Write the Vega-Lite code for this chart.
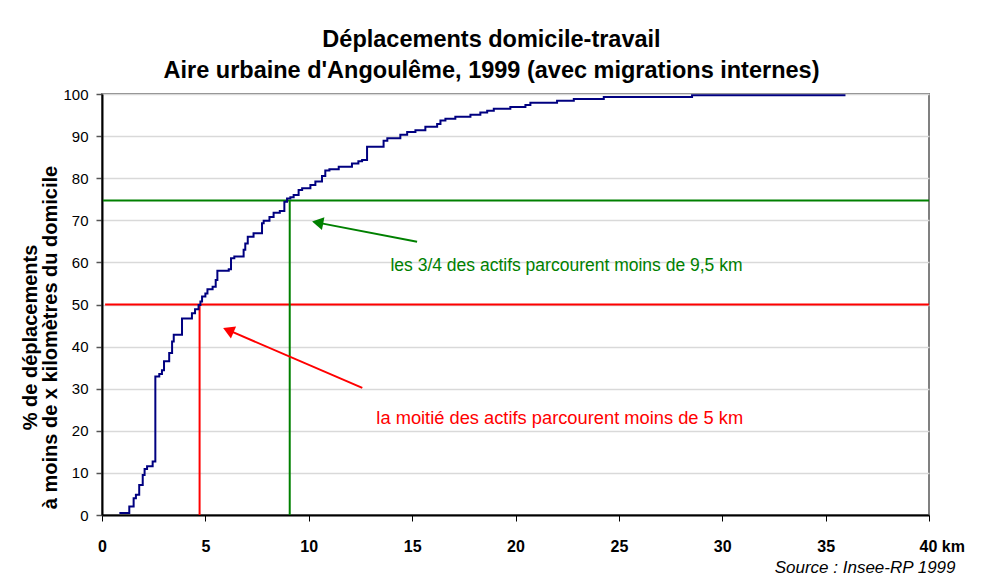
{
  "$schema": "https://vega.github.io/schema/vega-lite/v6.json",
  "autosize": "none",
  "width": 827,
  "height": 421,
  "padding": {"left": 102, "top": 94, "right": 53, "bottom": 62},
  "background": "white",
  "config": {
    "font": "Liberation Sans",
    "view": {"stroke": "#808080", "strokeWidth": 2}
  },
  "title": {
    "text": ["Déplacements domicile-travail", "Aire urbaine d'Angoulême, 1999 (avec migrations internes)"],
    "font": "Liberation Sans",
    "fontSize": 23.5,
    "fontWeight": "bold",
    "color": "black",
    "lineHeight": 31,
    "anchor": "middle",
    "dx": -24,
    "offset": 5
  },
  "datasets": {
    "curve": [
      {"km": 0.84, "pct": 0.5}, {"km": 1.32, "pct": 2.0}, {"km": 1.53, "pct": 4.0}, {"km": 1.64, "pct": 4.8},
      {"km": 1.80, "pct": 7.1}, {"km": 1.97, "pct": 9.5}, {"km": 2.06, "pct": 10.9}, {"km": 2.18, "pct": 11.6},
      {"km": 2.45, "pct": 12.7}, {"km": 2.58, "pct": 32.9}, {"km": 2.77, "pct": 33.5}, {"km": 2.90, "pct": 34.4},
      {"km": 3.00, "pct": 36.5}, {"km": 3.25, "pct": 38.5}, {"km": 3.39, "pct": 41.2}, {"km": 3.47, "pct": 42.8},
      {"km": 3.87, "pct": 46.7}, {"km": 4.35, "pct": 47.9}, {"km": 4.50, "pct": 48.9}, {"km": 4.67, "pct": 49.9},
      {"km": 4.76, "pct": 50.7}, {"km": 4.84, "pct": 51.9}, {"km": 5.00, "pct": 52.6}, {"km": 5.10, "pct": 53.6},
      {"km": 5.35, "pct": 54.2}, {"km": 5.50, "pct": 55.8}, {"km": 5.58, "pct": 58.0}, {"km": 6.13, "pct": 58.4},
      {"km": 6.24, "pct": 61.0}, {"km": 6.40, "pct": 61.4}, {"km": 6.85, "pct": 63.0}, {"km": 6.93, "pct": 64.5},
      {"km": 7.05, "pct": 66.1}, {"km": 7.33, "pct": 66.9}, {"km": 7.74, "pct": 69.3}, {"km": 7.82, "pct": 69.9},
      {"km": 8.10, "pct": 70.8}, {"km": 8.30, "pct": 71.8}, {"km": 8.60, "pct": 72.2}, {"km": 8.82, "pct": 74.4},
      {"km": 8.95, "pct": 75.2}, {"km": 9.11, "pct": 75.5}, {"km": 9.27, "pct": 76.0}, {"km": 9.51, "pct": 77.2},
      {"km": 9.68, "pct": 77.6}, {"km": 10.08, "pct": 78.4}, {"km": 10.32, "pct": 79.2}, {"km": 10.64, "pct": 80.5},
      {"km": 10.80, "pct": 81.8}, {"km": 11.00, "pct": 82.1}, {"km": 11.45, "pct": 82.7}, {"km": 12.09, "pct": 83.5},
      {"km": 12.40, "pct": 84.0}, {"km": 12.58, "pct": 84.3}, {"km": 12.82, "pct": 87.5}, {"km": 13.62, "pct": 88.9},
      {"km": 13.80, "pct": 89.5}, {"km": 14.43, "pct": 90.3}, {"km": 14.76, "pct": 91.0}, {"km": 15.16, "pct": 91.4},
      {"km": 15.64, "pct": 92.2}, {"km": 16.21, "pct": 92.9}, {"km": 16.37, "pct": 93.7}, {"km": 16.61, "pct": 94.1},
      {"km": 17.09, "pct": 94.6}, {"km": 17.82, "pct": 95.1}, {"km": 18.30, "pct": 95.6}, {"km": 18.63, "pct": 96.0},
      {"km": 18.95, "pct": 96.5}, {"km": 19.75, "pct": 96.9}, {"km": 20.48, "pct": 97.4}, {"km": 20.72, "pct": 97.9},
      {"km": 22.01, "pct": 98.4}, {"km": 22.82, "pct": 98.8}, {"km": 24.27, "pct": 99.3}, {"km": 28.54, "pct": 99.7},
      {"km": 35.96, "pct": 99.7}
    ],
    "redLines": [
      {"km": 0.15, "km2": 40, "pct": 50, "pct2": 50},
      {"km": 4.72, "km2": 4.72, "pct": 0, "pct2": 50}
    ],
    "greenLines": [
      {"km": 0.05, "km2": 40, "pct": 74.7, "pct2": 74.7},
      {"km": 9.08, "km2": 9.08, "pct": 0, "pct2": 74.7}
    ],
    "redArrow": [{"km": 12.59, "pct": 30.2, "km2": 6.11, "pct2": 43.9}],
    "greenArrow": [{"km": 15.24, "pct": 64.9, "km2": 10.43, "pct2": 69.45}],
    "redText": [{"km": 13.27, "pct": 22.8, "label": "la moitié des actifs parcourent moins de 5 km"}],
    "greenText": [{"km": 13.95, "pct": 59.1, "label": "les 3/4 des actifs parcourent moins de 9,5 km"}]
  },
  "layer": [
    {
      "data": {"name": "redLines"},
      "mark": {"type": "rule", "color": "#ff0000", "strokeWidth": 2},
      "encoding": {
        "x": {
          "field": "km", "type": "quantitative",
          "scale": {"domain": [0, 40], "nice": false},
          "axis": {
            "values": [0, 5, 10, 15, 20, 25, 30, 35, 40],
            "grid": false,
            "domainColor": "black", "domainWidth": 2,
            "tickColor": "black", "tickSize": 6, "tickWidth": 1,
            "labelFont": "Liberation Sans", "labelFontSize": 16, "labelFontWeight": "bold", "labelColor": "black",
            "labelPadding": 17,
            "labelExpr": "datum.value == 40 ? '40  km' : datum.label",
            "labelAlign": {"condition": {"test": "datum.value == 40", "value": "left"}, "value": "center"},
            "labelOffset": {"condition": {"test": "datum.value == 40", "value": -10}, "value": 0},
            "title": "Source : Insee-RP 1999",
            "titleFont": "Liberation Sans", "titleFontSize": 17, "titleFontStyle": "italic", "titleFontWeight": "normal",
            "titleColor": "black", "titleAlign": "right", "titleBaseline": "alphabetic",
            "titleX": 853, "titleY": 57
          }
        },
        "x2": {"field": "km2"},
        "y": {
          "field": "pct", "type": "quantitative",
          "scale": {"domain": [0, 100], "nice": false},
          "axis": {
            "values": [0, 10, 20, 30, 40, 50, 60, 70, 80, 90, 100],
            "grid": true, "gridColor": "#d9d9d9", "gridWidth": 1.5,
            "domainColor": "black", "domainWidth": 2,
            "tickColor": "#555555", "tickSize": 6, "tickWidth": 1.5,
            "labelFont": "Liberation Sans", "labelFontSize": 15, "labelColor": "black", "labelPadding": 8,
            "title": ["% de déplacements", "à moins de x kilomètres du domicile"],
            "titleFont": "Liberation Sans", "titleFontSize": 20, "titleFontWeight": "bold", "titleColor": "black",
            "titleAngle": -90, "titleAlign": "center", "titleBaseline": "alphabetic",
            "titleLineHeight": 20, "titleX": -66, "titleY": 243
          }
        },
        "y2": {"field": "pct2"}
      }
    },
    {
      "data": {"name": "greenLines"},
      "mark": {"type": "rule", "color": "#008000", "strokeWidth": 2},
      "encoding": {
        "x": {"field": "km", "type": "quantitative"},
        "x2": {"field": "km2"},
        "y": {"field": "pct", "type": "quantitative"},
        "y2": {"field": "pct2"}
      }
    },
    {
      "data": {"name": "redArrow"},
      "mark": {"type": "rule", "color": "#ff0000", "strokeWidth": 2},
      "encoding": {
        "x": {"field": "km", "type": "quantitative"},
        "x2": {"field": "km2"},
        "y": {"field": "pct", "type": "quantitative"},
        "y2": {"field": "pct2"}
      }
    },
    {
      "data": {"name": "redArrow"},
      "mark": {"type": "point", "shape": "triangle-up", "filled": true, "color": "#ff0000", "size": 170, "angle": 293.3, "opacity": 1},
      "encoding": {
        "x": {"field": "km2", "type": "quantitative"},
        "y": {"field": "pct2", "type": "quantitative"}
      }
    },
    {
      "data": {"name": "greenArrow"},
      "mark": {"type": "rule", "color": "#008000", "strokeWidth": 2},
      "encoding": {
        "x": {"field": "km", "type": "quantitative"},
        "x2": {"field": "km2"},
        "y": {"field": "pct", "type": "quantitative"},
        "y2": {"field": "pct2"}
      }
    },
    {
      "data": {"name": "greenArrow"},
      "mark": {"type": "point", "shape": "triangle-up", "filled": true, "color": "#008000", "size": 170, "angle": 280.8, "opacity": 1},
      "encoding": {
        "x": {"field": "km2", "type": "quantitative"},
        "y": {"field": "pct2", "type": "quantitative"}
      }
    },
    {
      "data": {"name": "redText"},
      "mark": {"type": "text", "color": "#ff0000", "font": "Liberation Sans", "fontSize": 18.3, "align": "left", "baseline": "middle"},
      "encoding": {
        "x": {"field": "km", "type": "quantitative"},
        "y": {"field": "pct", "type": "quantitative"},
        "text": {"field": "label"}
      }
    },
    {
      "data": {"name": "greenText"},
      "mark": {"type": "text", "color": "#008000", "font": "Liberation Sans", "fontSize": 17.5, "align": "left", "baseline": "middle"},
      "encoding": {
        "x": {"field": "km", "type": "quantitative"},
        "y": {"field": "pct", "type": "quantitative"},
        "text": {"field": "label"}
      }
    },
    {
      "data": {"name": "curve"},
      "mark": {"type": "line", "color": "#000080", "strokeWidth": 2, "interpolate": "step-after"},
      "encoding": {
        "x": {"field": "km", "type": "quantitative"},
        "y": {"field": "pct", "type": "quantitative"}
      }
    }
  ]
}
